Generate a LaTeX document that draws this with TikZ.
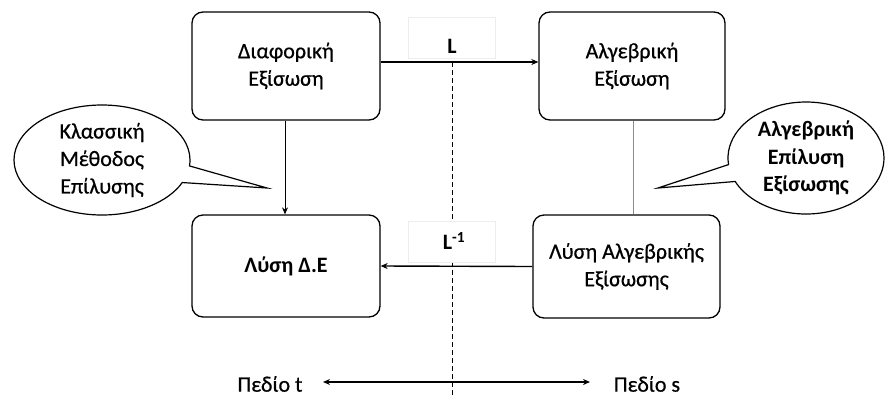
\documentclass[tikz,border=0pt]{standalone}
\usepackage{fontspec}
\setmainfont{Carlito}
\newfontfamily\medfont{Carlito}[FakeBold=0.6]
\usetikzlibrary{arrows.meta,shapes.callouts,shapes.geometric}
\begin{document}
\begin{tikzpicture}[x=1pt,y=-1pt,
  every node/.style={font=\medfont\fontsize{22}{27.5}\selectfont},
  box/.style={draw,line width=1.3pt,rounded corners=11pt,minimum width=#1,align=center,inner sep=0pt},
  box/.default=188pt,
  bubble/.style={ellipse callout,draw,line width=1.2pt,fill=white,align=center,inner sep=0pt,callout pointer arc=18},
  conn/.style={line width=1.4pt,-{Stealth[length=7pt,width=6pt]}},
  lbl/.style={draw=black!7,fill=white,minimum width=87pt,minimum height=41pt,inner sep=0pt},
  boldtxt/.style={font=\normalfont\fontsize{22}{27.5}\selectfont\bfseries}
]
\useasboundingbox (0,0) rectangle (886,397);
% dashed divider
\coordinate (dtop) at (452,62);
\coordinate (dbot) at (452,397);
\draw[dashed,dash pattern=on 5pt off 3pt,line width=0.9pt] (dtop) -- (dbot);
% labels
\node[lbl] (Lb) at (451.5,37.5) {};
\node[boldtxt] (L) at (452,46) {L};
\node[lbl] (Lib) at (451.5,242) {};
\node[boldtxt] (Li) at (454,241) {L\textsuperscript{-1}};
% boxes
\node[box=188pt,minimum height=108pt] (de) at (286,66) {Διαφορική\\Εξίσωση};
\node[box=186pt,minimum height=108pt] (ae) at (632,66) {Αλγεβρική\\Εξίσωση};
\node[box=188pt,minimum height=102pt,boldtxt] (sol) at (286,266) {Λύση Δ.Ε};
\node[box=187pt,minimum height=103pt] (asol) at (626.5,266.5) {Λύση Αλγεβρικής\\Εξίσωσης};
% connectors
\draw[conn] (de.east |- 0,62) -- (ae.west |- 0,62);
\draw[conn] (asol.west) -- (sol.east);
\draw[line width=1pt,-{Stealth[length=7pt,width=6pt]}] (de.south -| 285,0) -- (sol.north -| 285,0);
\draw[black!45,line width=0.9pt] (ae.south -| 633,0) -- (asol.north -| 633,0);
% callouts
\coordinate (tipL) at (267,188);
\coordinate (tipR) at (658,188);
\node[bubble,minimum width=176pt,minimum height=110pt,callout absolute pointer={(tipL)}] (cl) at (102,160) {Κλασσική\\Μέθοδος\\Επίλυσης};
\node[bubble,minimum width=156pt,minimum height=112pt,callout absolute pointer={(tipR)},boldtxt] (cr) at (806,158) {Αλγεβρική\\Επίλυση\\Εξίσωσης};
% bottom
\node (pt) at (270,384) {Πεδίο t};
\node (ps) at (647,384) {Πεδίο s};
\coordinate (a1) at (323,382);
\coordinate (a2) at (590,382);
\draw[line width=1.3pt,{Stealth[length=7pt,width=6pt]}-{Stealth[length=7pt,width=6pt]}] (a1) -- (a2);
\end{tikzpicture}
\end{document}
